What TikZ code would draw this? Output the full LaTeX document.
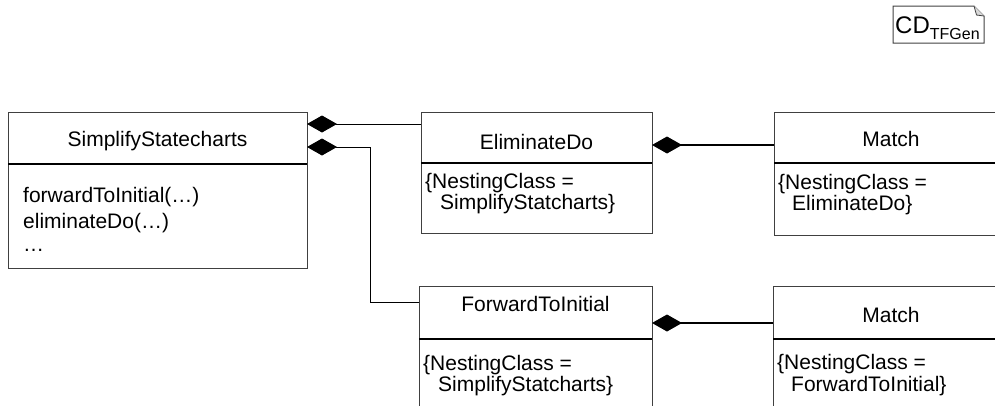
\documentclass[tikz,border=0pt]{standalone}
\usepackage{fontspec}
\setmainfont{Liberation Sans}
\usetikzlibrary{arrows.meta}
\begin{document}
\begin{tikzpicture}[x=1pt,y=-1pt,
  every node/.style={font=\fontsize{21}{25}\selectfont, inner sep=0pt},
  cls/.style={draw=black!75, line width=1pt, anchor=north west, inner sep=0pt, outer sep=0pt},
  sepline/.style={line width=2pt, draw=black},
  lbl/.style={anchor=base west},
  ttl/.style={anchor=base},
  compthin/.style={line width=1pt, draw=black, {Diamond[length=30pt,width=17pt]}-},
  compthick/.style={line width=2pt, draw=black, {Diamond[length=30pt,width=17pt]}-}]
\useasboundingbox (0,0) rectangle (995,405);
\clip (0,0) rectangle (995,405);

% CD_TFGen tag
\draw[line width=1pt, draw=black!75] (893,6) -- (974,6) -- (984,16) -- (984,43) -- (893,43) -- cycle;
\draw[line width=0.8pt, draw=black!75, fill=black!15] (974,6) -- (976.5,15) -- (984,16);
\node[anchor=base west] (cd) at (895,33) {\fontsize{24}{26}\selectfont CD\raisebox{-6pt}{\fontsize{16}{17}\selectfont TFGen}};

% SimplifyStatecharts
\node[cls, minimum width=299pt, minimum height=156pt] (ss) at (8,112) {};
\draw[sepline] (ss.west |- 0,164) -- (ss.east |- 0,164);
\node[ttl] (sst) at (157.5,146) {SimplifyStatecharts};
\node[lbl] (op1) at (23,202) {forwardToInitial(…)};
\node[lbl] (op2) at (23,228) {eliminateDo(…)};
\node[lbl] (op3) at (23,251) {…};

% EliminateDo
\node[cls, minimum width=231pt, minimum height=121pt] (ed) at (421,112) {};
\draw[sepline] (ed.west |- 0,163) -- (ed.east |- 0,163);
\node[ttl] (edt) at (536.5,149) {EliminateDo};
\node[lbl] (edc1) at (425,188) {\{NestingClass =};
\node[lbl] (edc2) at (440,209) {SimplifyStatcharts\}};

% Match (upper)
\node[cls, minimum width=235pt, minimum height=123pt] (ma) at (774,112) {};
\draw[sepline] (ma.west |- 0,163) -- (ma.east |- 0,163);
\node[ttl] (mat) at (891,146) {Match};
\node[lbl] (mac1) at (778,189) {\{NestingClass =};
\node[lbl] (mac2) at (792,210) {EliminateDo\}};

% ForwardToInitial
\node[cls, minimum width=233pt, minimum height=200pt] (fi) at (419,286) {};
\draw[sepline] (fi.west |- 0,339) -- (fi.east |- 0,339);
\node[ttl] (fit) at (535.5,311) {ForwardToInitial};
\node[lbl] (fic1) at (423,370) {\{NestingClass =};
\node[lbl] (fic2) at (438,391) {SimplifyStatcharts\}};

% Match (lower)
\node[cls, minimum width=236pt, minimum height=200pt] (mb) at (773,286) {};
\draw[sepline] (mb.west |- 0,339) -- (mb.east |- 0,339);
\node[ttl] (mbt) at (891,322) {Match};
\node[lbl] (mbc1) at (777,369) {\{NestingClass =};
\node[lbl] (mbc2) at (791,391) {ForwardToInitial\}};

% connectors
\coordinate (bend) at (370,302);
\draw[compthin] (ss.east |- 0,124) -- (ed.west |- 0,124);
\draw[compthin] (ss.east |- 0,147) -| (bend) -- (fi.west |- bend);
\draw[compthick] (ed.east |- 0,145) -- (ma.west |- 0,145);
\draw[compthick] (fi.east |- 0,323) -- (mb.west |- 0,323);
\end{tikzpicture}
\end{document}
